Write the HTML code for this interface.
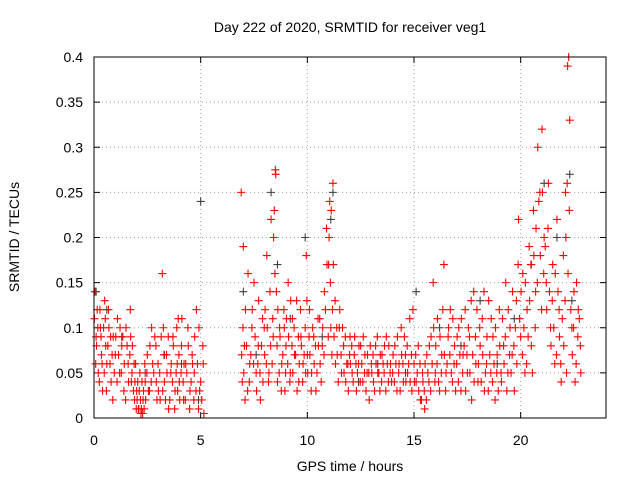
<!DOCTYPE html>
<html><head><meta charset="utf-8">
<style>
html,body{margin:0;padding:0;background:#fff;}
svg{display:block;font-family:"Liberation Sans",sans-serif;}
</style></head>
<body>
<svg id="chart" width="640" height="480">
<text x="350" y="32" text-anchor="middle" font-size="14">Day 222 of 2020, SRMTID for receiver veg1</text>
<text x="350" y="471" text-anchor="middle" font-size="14">GPS time / hours</text>
<text transform="translate(19,237) rotate(-90)" text-anchor="middle" font-size="14">SRMTID / TECUs</text>
<g id="grid"></g><g id="ticks"></g><g id="marks"></g>
<rect x="94" y="57" width="512" height="361" fill="none" stroke="#000" stroke-width="1"/>
</svg>
<script>
const xTicks=[0,5,10,15,20];
const yTicks=[0,0.05,0.1,0.15,0.2,0.25,0.3,0.35,0.4];
const yTickLabels=["0","0.05","0.1","0.15","0.2","0.25","0.3","0.35","0.4"];
const redTimes=[0.05,0.1,0.15,0.2,0.3,0.35,0.4,0.5,0.55,0.6,0.7,0.8,0.9,
1.0,1.1,1.2,1.3,1.4,1.5,1.6,1.7,1.75,1.8,1.9,1.95,
2.0,2.1,2.15,2.2,2.3,2.4,2.5,2.6,2.7,2.8,2.9,2.95,
3.0,3.1,3.2,3.25,3.3,3.4,3.5,3.6,3.7,3.8,3.9,3.95,
4.0,4.1,4.2,4.3,4.4,4.5,4.6,4.7,4.8,4.9,5.0,5.1,5.15,
6.9,6.95,7.0,7.05,7.1,7.2,7.3,7.4,7.5,7.6,7.7,7.8,7.9,
8.0,8.1,8.2,8.3,8.4,8.5,8.55,8.6,8.7,8.8,8.9,8.95,
9.0,9.1,9.2,9.3,9.4,9.5,9.6,9.7,9.8,9.9,9.95,
10.0,10.1,10.2,10.3,10.4,10.5,10.6,10.7,10.8,10.9,11.0,
11.05,11.1,11.2,11.3,11.4,11.5,11.6,11.7,11.8,11.9,
12.0,12.1,12.2,12.3,12.4,12.5,12.6,12.7,12.8,12.9,
13.0,13.1,13.2,13.3,13.4,13.5,13.6,13.7,13.8,13.9,
14.0,14.1,14.2,14.3,14.4,14.5,14.6,14.7,14.8,14.9,
15.0,15.1,15.2,15.3,15.4,15.5,15.6,15.7,15.8,15.9,
16.0,16.1,16.2,16.3,16.4,16.5,16.6,16.7,16.8,16.9,
17.0,17.1,17.2,17.3,17.4,17.5,17.6,17.7,17.8,17.9,
18.0,18.1,18.2,18.3,18.4,18.5,18.6,18.7,18.8,18.9,
19.0,19.1,19.2,19.3,19.4,19.5,19.6,19.7,19.8,19.9,
20.0,20.1,20.2,20.3,20.4,20.5,20.6,20.7,20.8,20.9,
21.0,21.1,21.2,21.3,21.4,21.5,21.6,21.7,21.8,21.9,
22.0,22.1,22.2,22.25,22.3,22.4,22.5,22.6,22.7,22.8];
const redValues=[0.14,0.09,0.12,0.05,0.1,0.07,0.03,0.13,0.08,0.06,0.1,0.04,0.09,
0.07,0.11,0.05,0.08,0.03,0.1,0.06,0.12,0.04,0.08,0.02,0.06,
0.03,0.01,0.05,0.005,0.02,0.04,0.07,0.03,0.1,0.05,0.08,0.02,
0.06,0.02,0.16,0.1,0.04,0.07,0.01,0.05,0.09,0.03,0.06,0.11,
0.04,0.08,0.02,0.06,0.1,0.03,0.07,0.05,0.12,0.01,0.04,0.08,0.005,
0.25,0.04,0.19,0.08,0.12,0.03,0.06,0.1,0.15,0.05,0.08,0.02,0.11,
0.07,0.18,0.05,0.22,0.09,0.275,0.14,0.04,0.1,0.06,0.12,0.03,
0.08,0.15,0.05,0.11,0.07,0.13,0.04,0.09,0.06,0.1,0.18,
0.07,0.12,0.05,0.09,0.03,0.11,0.06,0.08,0.14,0.21,0.17,
0.24,0.1,0.26,0.13,0.07,0.1,0.05,0.08,0.04,0.06,
0.09,0.05,0.07,0.03,0.06,0.08,0.04,0.07,0.05,0.02,
0.06,0.04,0.08,0.05,0.03,0.07,0.05,0.09,0.04,0.06,
0.05,0.08,0.03,0.06,0.1,0.04,0.07,0.05,0.11,0.03,
0.06,0.04,0.08,0.02,0.05,0.01,0.07,0.04,0.09,0.15,
0.05,0.11,0.03,0.07,0.17,0.05,0.09,0.12,0.04,0.08,
0.06,0.1,0.03,0.07,0.12,0.05,0.09,0.02,0.14,0.06,
0.04,0.08,0.11,0.03,0.06,0.13,0.05,0.09,0.02,0.07,
0.12,0.04,0.08,0.15,0.05,0.1,0.07,0.03,0.13,0.22,
0.09,0.16,0.05,0.12,0.19,0.08,0.23,0.14,0.3,0.25,
0.32,0.2,0.15,0.26,0.1,0.17,0.06,0.22,0.12,0.04,
0.18,0.25,0.39,0.4,0.33,0.1,0.14,0.06,0.12,0.08];
const redTimes2=[0.02,0.08,0.12,0.18,0.25,0.28,0.33,0.38,0.45,0.48,0.53,0.58,0.65,0.68,0.75,0.78,0.85,0.88,0.95,
1.02,1.08,1.15,1.22,1.28,1.35,1.42,1.48,1.55,1.62,1.68,1.72,1.78,1.85,1.88,1.92,1.98,
2.02,2.05,2.08,2.12,2.18,2.22,2.25,2.28,2.32,2.35,2.38,2.42,2.48,2.55,2.62,2.68,2.75,2.85,2.92,
3.02,3.08,3.15,3.22,3.28,3.35,3.42,3.48,3.55,3.62,3.68,3.72,3.78,3.85,3.88,3.92,3.98,
4.02,4.08,4.12,4.18,4.22,4.28,4.35,4.42,4.48,4.55,4.62,4.68,4.72,4.78,4.85,4.92,4.95,5.05,5.12,
6.92,6.98,7.02,7.08,7.15,7.22,7.28,7.35,7.42,7.48,7.55,7.62,7.68,7.72,7.78,7.85,7.92,7.98,
8.02,8.08,8.12,8.18,8.25,8.28,8.35,8.38,8.42,8.45,8.48,8.52,8.58,8.62,8.68,8.72,8.78,8.85,8.92,8.98,
9.02,9.08,9.12,9.18,9.22,9.28,9.32,9.38,9.45,9.52,9.58,9.62,9.68,9.72,9.78,9.85,9.92,9.98,
10.02,10.08,10.12,10.18,10.25,10.32,10.38,10.45,10.52,10.58,10.65,10.72,10.78,10.85,10.92,10.98,
11.02,11.08,11.12,11.15,11.18,11.22,11.25,11.32,11.38,11.45,11.52,11.58,11.65,11.72,11.78,11.85,11.92,11.98,
12.02,12.08,12.15,12.22,12.28,12.35,12.42,12.48,12.55,12.62,12.68,12.75,12.82,12.88,12.95,
13.02,13.08,13.15,13.22,13.28,13.35,13.42,13.48,13.55,13.62,13.68,13.75,13.82,13.88,13.95,
14.02,14.08,14.15,14.22,14.28,14.35,14.42,14.48,14.55,14.62,14.68,14.75,14.82,14.88,14.95,
15.02,15.08,15.15,15.22,15.28,15.35,15.42,15.48,15.52,15.58,15.65,15.72,15.78,15.85,15.92,15.98,
16.02,16.08,16.15,16.22,16.28,16.35,16.42,16.48,16.55,16.62,16.68,16.75,16.82,16.88,16.95,
17.02,17.08,17.15,17.22,17.28,17.35,17.42,17.48,17.55,17.62,17.68,17.75,17.82,17.88,17.95,
18.02,18.08,18.15,18.22,18.28,18.35,18.42,18.48,18.55,18.62,18.68,18.75,18.82,18.88,18.95,
19.02,19.08,19.15,19.22,19.28,19.35,19.42,19.48,19.55,19.62,19.68,19.75,19.82,19.88,19.95,
20.02,20.08,20.15,20.22,20.28,20.35,20.42,20.48,20.55,20.62,20.68,20.72,20.78,20.85,20.92,20.98,
21.02,21.08,21.15,21.22,21.28,21.35,21.42,21.48,21.55,21.62,21.68,21.75,21.82,21.88,21.95,
22.02,22.08,22.12,22.15,22.18,22.22,22.28,22.35,22.42,22.48,22.55,22.62,22.68,22.75,22.82];
const redValues2=[0.11,0.06,0.08,0.1,0.04,0.12,0.09,0.06,0.1,0.05,0.11,0.03,0.08,0.12,0.06,0.09,0.07,0.02,0.05,
0.09,0.04,0.07,0.1,0.05,0.09,0.06,0.02,0.08,0.04,0.07,0.09,0.05,0.03,0.06,0.04,0.01,
0.02,0.04,0.01,0.03,0.02,0.01,0.04,0.005,0.03,0.01,0.06,0.02,0.05,0.03,0.08,0.04,0.06,0.09,0.04,
0.03,0.05,0.09,0.03,0.07,0.02,0.05,0.09,0.02,0.06,0.04,0.08,0.01,0.05,0.1,0.03,0.07,
0.02,0.05,0.11,0.04,0.06,0.02,0.05,0.08,0.01,0.04,0.06,0.02,0.09,0.03,0.06,0.1,0.03,0.02,0.06,
0.07,0.1,0.05,0.02,0.08,0.16,0.04,0.07,0.12,0.06,0.09,0.03,0.06,0.13,0.05,0.08,0.04,0.1,
0.12,0.06,0.1,0.04,0.14,0.08,0.06,0.11,0.2,0.23,0.16,0.27,0.08,0.12,0.05,0.09,0.03,0.07,0.1,0.05,
0.11,0.06,0.09,0.04,0.13,0.08,0.05,0.1,0.07,0.03,0.09,0.06,0.12,0.08,0.04,0.07,0.05,0.13,
0.05,0.09,0.07,0.03,0.1,0.06,0.08,0.05,0.08,0.11,0.04,0.1,0.07,0.12,0.17,0.09,
0.2,0.15,0.23,0.07,0.12,0.17,0.09,0.06,0.1,0.04,0.12,0.07,0.1,0.05,0.09,0.06,0.03,0.07,
0.06,0.08,0.04,0.09,0.06,0.05,0.08,0.04,0.06,0.09,0.05,0.03,0.07,0.05,0.08,
0.05,0.07,0.03,0.06,0.09,0.05,0.07,0.04,0.06,0.08,0.03,0.06,0.08,0.05,0.04,
0.07,0.04,0.06,0.09,0.05,0.03,0.07,0.06,0.09,0.04,0.08,0.06,0.04,0.07,0.12,
0.04,0.07,0.05,0.03,0.06,0.02,0.04,0.03,0.06,0.02,0.05,0.08,0.03,0.06,0.1,0.04,
0.08,0.06,0.04,0.09,0.05,0.12,0.07,0.03,0.06,0.1,0.07,0.05,0.11,0.06,0.03,
0.09,0.04,0.07,0.11,0.05,0.08,0.03,0.07,0.1,0.05,0.13,0.07,0.04,0.09,0.12,
0.06,0.1,0.04,0.07,0.14,0.05,0.09,0.03,0.07,0.11,0.04,0.06,0.1,0.05,0.03,
0.08,0.05,0.11,0.06,0.09,0.03,0.12,0.07,0.05,0.14,0.08,0.1,0.06,0.17,0.11,
0.14,0.07,0.1,0.15,0.06,0.09,0.13,0.17,0.05,0.18,0.1,0.21,0.15,0.24,0.18,0.12,
0.25,0.16,0.19,0.12,0.21,0.14,0.08,0.13,0.1,0.16,0.07,0.14,0.09,0.06,0.11,
0.08,0.13,0.2,0.05,0.26,0.16,0.23,0.12,0.07,0.1,0.04,0.15,0.09,0.11,0.05];
const grayTimes=[0.1,0.6,1.3,2.4,3.3,4.1,4.9,5.0,7.0,7.6,8.3,8.6,9.2,9.9,10.7,11.1,11.2,12.4,13.3,14.6,15.1,16.2,17.2,18.1,18.9,19.7,20.5,21.1,21.7,22.3,22.4];
const grayValues=[0.14,0.12,0.09,0.05,0.07,0.06,0.02,0.24,0.14,0.07,0.25,0.17,0.11,0.2,0.09,0.22,0.25,0.04,0.06,0.05,0.14,0.1,0.08,0.13,0.06,0.11,0.17,0.26,0.2,0.27,0.13];
const NS="http://www.w3.org/2000/svg";
const X0=94,X1=606,Y0=418,Y1=57,XMAX=24,YMAX=0.4;
function sx(v){return X0+(X1-X0)*v/XMAX;}
function sy(v){return Y0-(Y0-Y1)*v/YMAX;}
function mk(tag,attrs,parent){const e=document.createElementNS(NS,tag);for(const k in attrs)e.setAttribute(k,attrs[k]);parent.appendChild(e);return e;}
const grid=document.getElementById('grid'),ticks=document.getElementById('ticks'),marks=document.getElementById('marks');
xTicks.forEach(t=>{const x=sx(t);
 if(t>0){const g=mk('line',{x1:x,x2:x,y1:Y0,y2:Y1,stroke:'#a0a0a0','stroke-dasharray':'1,3'},grid);
 
 }
 mk('line',{x1:x,x2:x,y1:Y0,y2:Y0-6,stroke:'#000'},ticks);
 mk('line',{x1:x,x2:x,y1:Y1,y2:Y1+6,stroke:'#000'},ticks);
 const l=mk('text',{x:x,y:445,'text-anchor':'middle','font-size':14},ticks);l.textContent=t;
 
 });
yTicks.forEach((t,i)=>{const y=sy(t);
 if(t>0&&t<YMAX){const g=mk('line',{x1:X0,x2:X1,y1:y,y2:y,stroke:'#a0a0a0','stroke-dasharray':'1,3'},grid);
 
 }
 mk('line',{x1:X0,x2:X0+6,y1:y,y2:y,stroke:'#000'},ticks);
 mk('line',{x1:X1,x2:X1-6,y1:y,y2:y,stroke:'#000'},ticks);
 const l=mk('text',{x:83,y:y+5,'text-anchor':'end','font-size':14},ticks);l.textContent=yTickLabels[i];
 
 });
function cross(x,y,c,name){const p=mk('path',{d:`M${x-4},${y}h8M${x},${y-4}v8`,stroke:c,'stroke-width':1.1,fill:'none'},marks);
 
 }
grayTimes.forEach((t,i)=>cross(sx(t),sy(grayValues[i]),'#404040','gray-point'));
redTimes2.forEach((t,i)=>cross(sx(t),sy(redValues2[i]),'#ff0000','red-point'));
redTimes.forEach((t,i)=>cross(sx(t),sy(redValues[i]),'#ff0000','red-point'));
</script>
</body></html>
